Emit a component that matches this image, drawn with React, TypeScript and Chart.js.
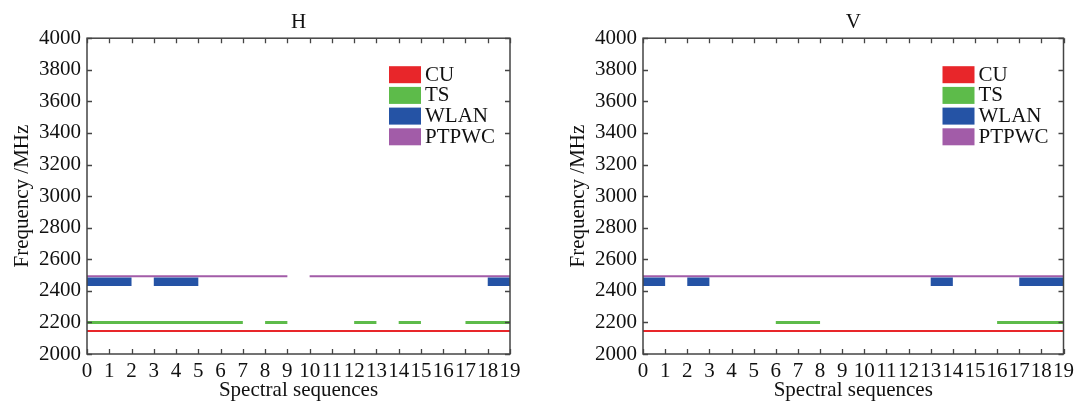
import React, { useEffect, useRef } from 'react';
import { Chart, registerables } from 'chart.js';

Chart.register(...registerables);

const xMin = 0;
const xMax = 19;
const yMin = 2000;
const yMax = 4000;
const yStep = 200;

const seriesNames = ['CU', 'TS', 'WLAN', 'PTPWC'];
const seriesColors = ['#e8262a', '#5dbb4a', '#2553a5', '#a25ca8'];
const seriesFreq = [2145, 2200, 2458, 2493];
const seriesWidths = [2, 3, 8.5, 2];

const hCU = [[0, 19]];
const hTS = [[0, 7], [8, 9], [12, 13], [14, 15], [17, 19]];
const hWLAN = [[0, 2], [3, 5], [18, 19]];
const hPTPWC = [[0, 9], [10, 19]];

const vCU = [[0, 19]];
const vTS = [[6, 8], [16, 19]];
const vWLAN = [[0, 1], [2, 3], [13, 14], [17, 19]];
const vPTPWC = [[0, 19]];

const FONT = '"Liberation Serif", "Times New Roman", serif';
const FS = 21;

function segPoints(pairs: number[][], y: number) {
  const pts: { x: number; y: number | null }[] = [];
  pairs.forEach(([a, b]) => {
    pts.push({ x: a, y });
    pts.push({ x: b, y });
    pts.push({ x: b, y: null });
  });
  return pts;
}

const framePlugin = {
  id: 'frameTicks',
  afterDraw(chart: any) {
    const { ctx, chartArea } = chart;
    const { left, right, top, bottom } = chartArea;
    const xs = chart.scales.x;
    const ys = chart.scales.y;
    ctx.save();
    ctx.strokeStyle = '#444';
    ctx.lineWidth = 1.3;
    const tl = 5;
    ctx.beginPath();
    for (let v = xMin; v <= xMax; v++) {
      const px = Math.round(xs.getPixelForValue(v)) + 0.5;
      ctx.moveTo(px, bottom);
      ctx.lineTo(px, bottom - tl);
      ctx.moveTo(px, top);
      ctx.lineTo(px, top + tl);
    }
    for (let v = yMin; v <= yMax; v += yStep) {
      const py = Math.round(ys.getPixelForValue(v)) + 0.5;
      ctx.moveTo(left, py);
      ctx.lineTo(left + tl, py);
      ctx.moveTo(right, py);
      ctx.lineTo(right - tl, py);
    }
    ctx.stroke();
    ctx.lineWidth = 1.5;
    ctx.strokeRect(left, top, right - left, bottom - top);
    // legend
    const bx = right - 121;
    let by = top + 28;
    ctx.font = FS + 'px ' + FONT;
    ctx.textBaseline = 'middle';
    ctx.textAlign = 'left';
    chart.data.datasets.forEach((ds: any) => {
      ctx.fillStyle = ds.borderColor;
      ctx.fillRect(bx, by, 32, 17);
      ctx.fillStyle = '#111';
      ctx.fillText(ds.label, bx + 36, by + 9);
      by += 20.7;
    });
    ctx.restore();
  },
};

function Panel(props: { title: string; segs: number[][][]; padLeft: number; padRight: number; width: number }) {
  const ref = useRef<HTMLCanvasElement>(null);
  useEffect(() => {
    if (!ref.current) return;
    const datasets = seriesNames.map((name, i) => ({
      label: name,
      data: segPoints(props.segs[i], seriesFreq[i]),
      borderColor: seriesColors[i],
      backgroundColor: seriesColors[i],
      borderWidth: seriesWidths[i],
      borderCapStyle: 'butt' as const,
      pointRadius: 0,
      spanGaps: false,
      tension: 0,
    }));
    const chart = new Chart(ref.current, {
      type: 'line',
      data: { datasets },
      plugins: [framePlugin],
      options: {
        animation: false,
        responsive: false,
        devicePixelRatio: 1,
        layout: { padding: { left: props.padLeft, right: props.padRight, top: 0, bottom: 0 } },
        plugins: {
          legend: { display: false },
          tooltip: { enabled: false },
          title: {
            display: true,
            text: props.title,
            fullSize: false,
            color: '#111',
            font: { family: FONT, size: FS, weight: 'normal' },
            padding: { top: 10, bottom: 3 },
          },
        },
        scales: {
          x: {
            type: 'linear',
            min: xMin,
            max: xMax,
            grid: { display: false, drawTicks: false },
            border: { display: false },
            ticks: {
              stepSize: 1,
              autoSkip: false,
              maxRotation: 0,
              padding: 5,
              color: '#111',
              font: { family: FONT, size: FS },
              callback: (v: any) => String(v),
            },
            title: {
              display: true,
              text: 'Spectral sequences',
              color: '#111',
              font: { family: FONT, size: FS },
              padding: { top: 0, bottom: 0 },
            },
            afterFit(scale: any) {
              scale.height = 49;
            },
          },
          y: {
            type: 'linear',
            min: yMin,
            max: yMax,
            grid: { display: false, drawTicks: false },
            border: { display: false },
            ticks: {
              stepSize: yStep,
              padding: 6,
              color: '#111',
              font: { family: FONT, size: FS },
              callback: (v: any) => String(v),
            },
            title: {
              display: true,
              text: 'Frequency /MHz',
              color: '#111',
              font: { family: FONT, size: FS },
              padding: { top: 10, bottom: 0 },
            },
            afterFit(scale: any) {
              scale.width = 87;
            },
          },
        },
      },
    });
    return () => chart.destroy();
  }, []);
  return <canvas ref={ref} width={props.width} height={403} style={{ display: 'block', width: props.width, height: 403 }} />;
}

export default function App() {
  return (
    <div style={{ position: 'fixed', left: 0, top: 0, width: 1079, height: 403, background: '#fff' }}>
      <div style={{ position: 'absolute', left: 0, top: 0 }}>
        <Panel title="H" segs={[hCU, hTS, hWLAN, hPTPWC]} padLeft={0} padRight={30} width={540} />
      </div>
      <div style={{ position: 'absolute', left: 540, top: 0 }}>
        <Panel title="V" segs={[vCU, vTS, vWLAN, vPTPWC]} padLeft={16} padRight={13} width={539} />
      </div>
    </div>
  );
}
